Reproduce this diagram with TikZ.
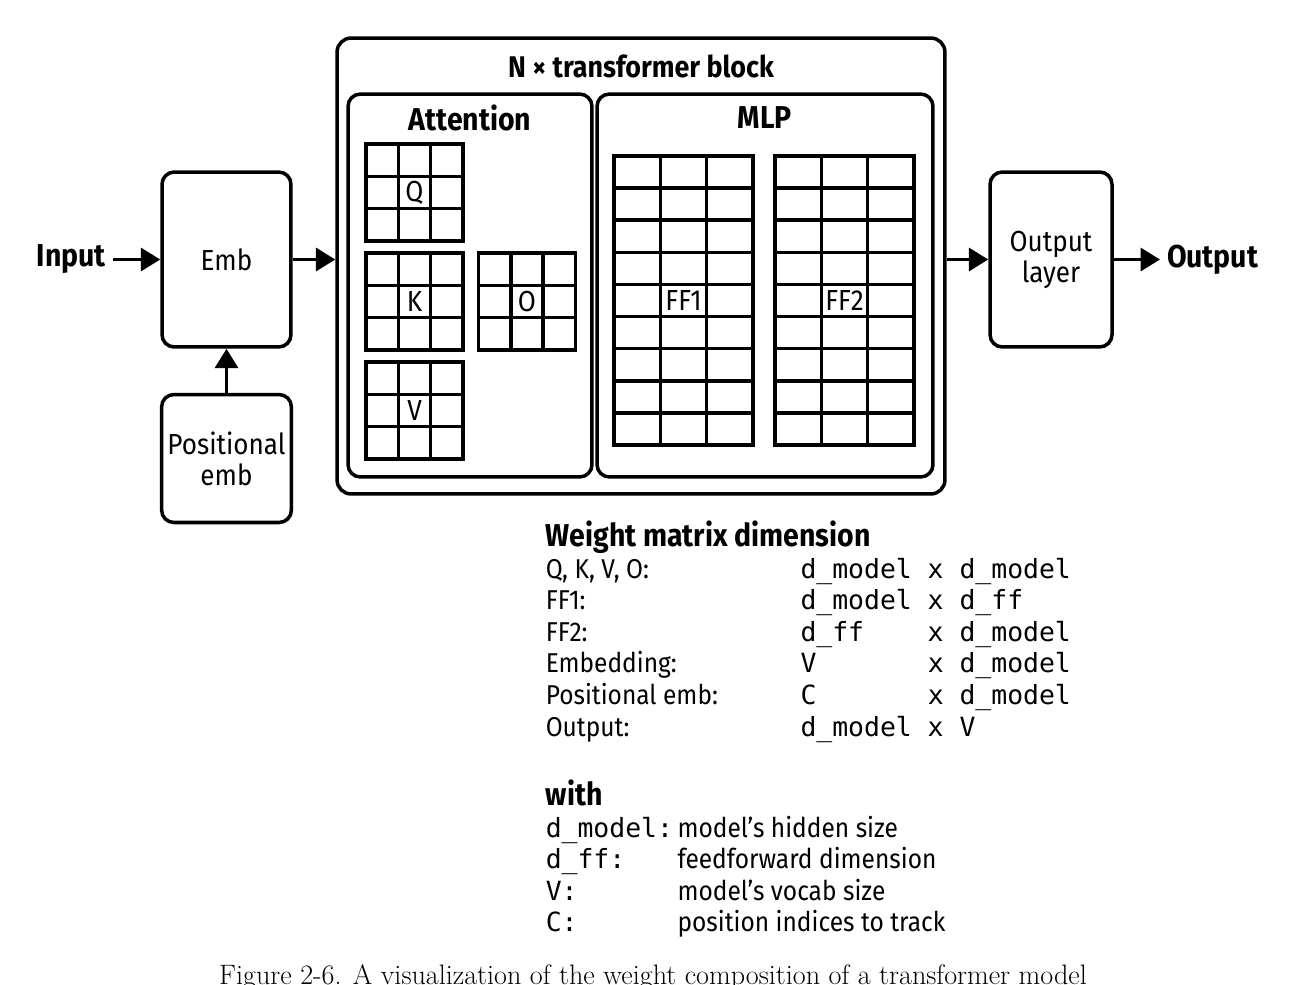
\documentclass[tikz,border=0pt]{standalone}
\usepackage{fontspec}
\setmainfont[FakeStretch=0.9]{Fira Sans}
\setmonofont[Scale=0.97]{DejaVu Sans Mono}
\newfontfamily\capfont{Latin Modern Roman}
\usetikzlibrary{arrows.meta,calc}

\newcommand{\cellgrid}[3]{%
  \foreach \i in {1,...,#2}
    \draw ($(#1.north west)!\i/#2!(#1.north east)$) -- ($(#1.south west)!\i/#2!(#1.south east)$);
  \foreach \j in {1,...,#3}
    \draw ($(#1.north west)!\j/#3!(#1.south west)$) -- ($(#1.north east)!\j/#3!(#1.south east)$);
}

\begin{document}
\begin{tikzpicture}[x=0.02cm, y=-0.02cm, line width=2pt,
    box/.style={draw, rounded corners=7pt, align=center, font=\fontsize{16.5}{17.6}\selectfont},
    wmat/.style={draw, outer sep=0pt, inner sep=0pt, minimum size=1.94cm, font=\fontsize{16.5}{17.6}\selectfont},
    head/.style={inner sep=3pt, font=\bfseries\fontsize{18}{20}\selectfont},
    flow/.style={-{Triangle[length=11pt,width=13pt]}}]
    \useasboundingbox (0,0) rectangle (1307,984);

    \node[box, minimum width=2.58cm, minimum height=3.5cm] (emb) at (226.5,259.5) {Emb};
    \node[box, minimum width=2.58cm, minimum height=2.56cm] (pos) at (226.5,458.5) {Positional\\emb};
    \node[box, rounded corners=8pt, minimum width=12.16cm, minimum height=9.12cm] (block) at (641,266) {};
    \node[head, font=\bfseries\fontsize{17}{20}\selectfont] (blocktitle) at (641,66) {N × transformer block};
    \node[box, minimum width=4.88cm, minimum height=7.66cm] (attn) at (470,285.5) {};
    \node[head] (attntitle) at (470,118) {Attention};
    \node[box, minimum width=6.72cm, minimum height=7.66cm] (mlp) at (765,285.5) {};
    \node[head] (mlptitle) at (765,118) {MLP};
    \node[box, minimum width=2.44cm, minimum height=3.5cm] (out) at (1051,259.5) {Output\\layer};
    \node[head, anchor=east] (input) at (113,259.5) {Input};
    \node[head, anchor=west] (output) at (1160,259.5) {Output};

    \node[wmat] (q) at (414.5,192.5) {Q};
    \node[wmat] (k) at (414.5,301.5) {K};
    \node[wmat] (o) at (527,301.5) {O};
    \node[wmat] (v) at (414.5,410.5) {V};
    \node[wmat, minimum width=2.78cm, minimum height=5.78cm] (ff1) at (683.5,300.5) {FF1};
    \node[wmat, minimum width=2.78cm, minimum height=5.78cm] (ff2) at (844.5,300.5) {FF2};
    \foreach \m in {q,k,o,v} {\cellgrid{\m}{3}{3}}
    \cellgrid{ff1}{3}{9}
    \cellgrid{ff2}{3}{9}

    \draw[flow] (input) -- (emb);
    \draw[flow] (pos) -- (emb);
    \draw[flow] (emb.east) -- (emb.east -| block.west);
    \draw[flow] (out.west -| block.east) -- (out.west);
    \draw[flow] (out) -- (output);

    \node[head, anchor=base west, inner sep=0pt] (dimtitle) at (544,546) {Weight matrix dimension};
    \node[anchor=base west, inner sep=0pt, font=\fontsize{15.5}{18}\selectfont] (dims) at (544,578) {%
        \begin{tabular}[t]{@{}p{145pt}@{}l@{}}
        Q, K, V, O: & \texttt{d\_model x d\_model}\\
        FF1: & \texttt{d\_model x d\_ff}\\
        FF2: & \texttt{d\_ff\phantom{000} x d\_model}\\
        Embedding: & \texttt{V\phantom{000000} x d\_model}\\
        Positional emb: & \texttt{C\phantom{000000} x d\_model}\\
        Output: & \texttt{d\_model x V}
        \end{tabular}};
    \node[head, anchor=base west, inner sep=0pt] (withtitle) at (544,805) {with};
    \node[anchor=base west, inner sep=0pt, font=\fontsize{15.5}{18}\selectfont] (legend) at (544,837) {%
        \begin{tabular}[t]{@{}p{75pt}@{}l@{}}
        \texttt{d\_model:} & model's hidden size\\
        \texttt{d\_ff:} & feedforward dimension\\
        \texttt{V:} & model's vocab size\\
        \texttt{C:} & position indices to track
        \end{tabular}};

    \node[anchor=base, inner sep=0pt, font=\capfont\fontsize{16}{18}\selectfont] (caption) at (653,984) {Figure 2-6. A visualization of the weight composition of a transformer model};
\end{tikzpicture}
\end{document}
